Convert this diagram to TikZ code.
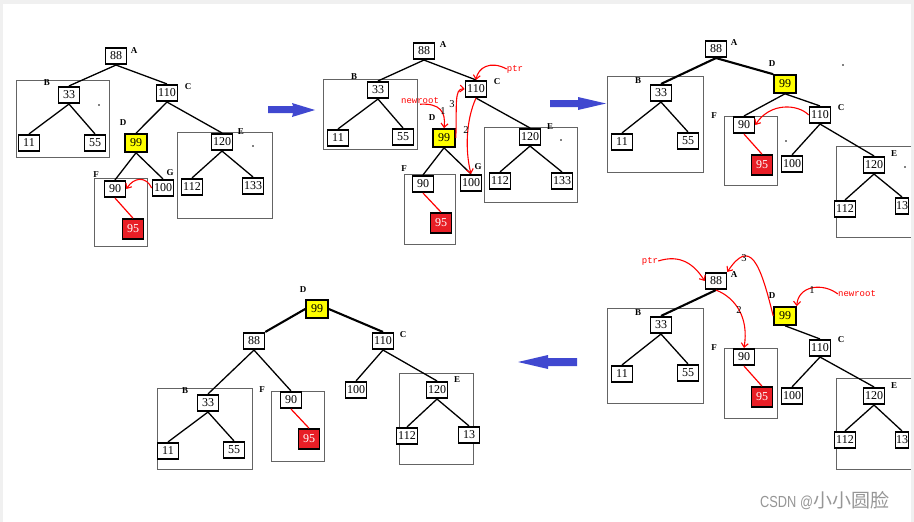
\documentclass[tikz,border=0pt]{standalone}
\usepackage{fontspec}
\setmainfont{Liberation Serif}
\newfontfamily\monof{Liberation Mono}
\newfontfamily\sansf{Liberation Sans}
\newfontfamily\cjk{Noto Sans CJK SC}
\usetikzlibrary{arrows.meta}
\definecolor{bblue}{RGB}{64,72,208}
\definecolor{boxred}{RGB}{232,30,38}
\definecolor{pred}{RGB}{255,0,0}
\definecolor{ybox}{RGB}{255,255,0}
\definecolor{gline}{RGB}{100,100,100}
\definecolor{bgframe}{RGB}{240,240,240}
\definecolor{wm}{RGB}{150,150,150}
\begin{document}
\begin{tikzpicture}[x=1pt,y=-1pt,
  num/.style={draw=black,line width=1.6pt,fill=white,inner xsep=1.5pt,inner ysep=0pt,
    minimum width=21pt,minimum height=16.5pt,font=\fontsize{12}{13}\selectfont},
  ynum/.style={num,fill=ybox,minimum width=22pt,minimum height=18pt},
  rnum/.style={num,fill=boxred,text=white,minimum width=21pt,minimum height=20pt},
  cutnum/.style={num,minimum width=13pt,inner xsep=0.3pt},
  lab/.style={font=\fontsize{9}{10}\selectfont\bfseries,inner sep=0pt},
  stepnum/.style={font=\fontsize{10.5}{11}\selectfont,inner sep=0pt},
  ptrtxt/.style={font=\monof\fontsize{9}{10}\selectfont,text=pred,inner sep=0pt},
  grp/.style={draw=gline,line width=0.9pt},
  edge/.style={line width=1.3pt},
  tedge/.style={line width=2.1pt},
  rarr/.style={draw=pred,line width=1.1pt,-{Straight Barb[length=4pt,width=7pt]}},
  rline/.style={draw=pred,line width=1.2pt},
  bar/.style={fill=bblue},
  dotm/.style={fill=black}
]
\useasboundingbox (0,0) rectangle (914,522);
\fill[bgframe] (0,0) rectangle (914,522);
\fill[white] (3,4) rectangle (911,522);

% ================= Panel 1 =================
\draw[grp] (16,80) rectangle (109,157);
\draw[grp] (177,132) rectangle (272,218);
\draw[grp] (94,178) rectangle (147,246);
\node[num] (p1a) at (116,56) {88};
\node[num] (p1b) at (69,95) {33};
\node[num] (p1b1) at (29,143) {11};
\node[num] (p1b2) at (95,143) {55};
\node[num] (p1c) at (167,93) {110};
\node[ynum] (p1d) at (136,143) {99};
\node[num] (p1e) at (222,142) {120};
\node[num] (p1e1) at (192,187) {112};
\node[num] (p1e2) at (253,186) {133};
\node[num] (p1f) at (115,189) {90};
\node[num] (p1g) at (163,188) {100};
\node[rnum] (p1r) at (133,229) {95};
\draw[edge] (p1a.south) -- (p1b.north);
\draw[edge] (p1a.south) -- (p1c.north);
\draw[edge] (p1b.south) -- (p1b1.north);
\draw[edge] (p1b.south) -- (p1b2.north);
\draw[edge] (p1c.south) -- (p1d.north);
\draw[edge] (p1c.south) -- (p1e.north);
\draw[edge] (p1d.south) -- (p1f.north);
\draw[edge] (p1d.south) -- (p1g.north);
\draw[edge] (p1e.south) -- (p1e1.north);
\draw[edge] (p1e.south) -- (p1e2.north);
\draw[rline] (p1f.south) -- (p1r.north);
\draw[rarr] (p1g.west) .. controls (146,176) and (134,177) .. (p1f.east);
\node[lab] (l1a) at (134,51) {A};
\node[lab] (l1b) at (47,83) {B};
\node[lab] (l1c) at (188,87) {C};
\node[lab] (l1d) at (123,123) {D};
\node[lab] (l1e) at (241,132) {E};
\node[lab] (l1f) at (96,175) {F};
\node[lab] (l1g) at (170,173) {G};
\fill[dotm] (99,105) circle (0.9);
\fill[dotm] (253,146) circle (0.9);

% blue arrow 1
\fill[bar] (268,106) -- (293,106) -- (292,103) -- (315,110) -- (292,117) -- (293,113) -- (268,113) -- cycle;

% ================= Panel 2 =================
\draw[grp] (323,79) rectangle (417,149);
\draw[grp] (484,127) rectangle (577,202);
\draw[grp] (404,174) rectangle (455,244);
\node[num] (p2a) at (424,51) {88};
\node[num] (p2b) at (378,90) {33};
\node[num] (p2b1) at (338,138) {11};
\node[num] (p2b2) at (403,137) {55};
\node[num] (p2c) at (476,89) {110};
\node[ynum] (p2d) at (444,138) {99};
\node[num] (p2e) at (530,137) {120};
\node[num] (p2e1) at (500,181) {112};
\node[num] (p2e2) at (562,181) {133};
\node[num] (p2f) at (423,184) {90};
\node[num] (p2g) at (471,183) {100};
\node[rnum] (p2r) at (441,223) {95};
\draw[edge] (p2a.south) -- (p2b.north);
\draw[edge] (p2a.south) -- (p2c.north);
\draw[edge] (p2b.south) -- (p2b1.north);
\draw[edge] (p2b.south) -- (p2b2.north);
\draw[edge] (p2c.south) -- (p2e.north);
\draw[edge] (p2d.south) -- (p2f.north);
\draw[edge] (p2d.south) -- (p2g.north);
\draw[edge] (p2e.south) -- (p2e1.north);
\draw[edge] (p2e.south) -- (p2e2.north);
\draw[rline] (p2f.south) -- (p2r.north);
\node[ptrtxt] (ptr2) at (515,69) {ptr};
\node[ptrtxt] (nr2) at (420,101) {newroot};
\draw[rarr] (ptr2.west) .. controls (490,60) and (478,68) .. (p2c.north);
\draw[rarr] (nr2.south) .. controls (440,103) and (446,112) .. (p2d.north);
\draw[rarr] (p2d.east) .. controls (457,105) and (454,88) .. (p2c.west);
\draw[rarr] (p2c.south) .. controls (466,120) and (465,150) .. (p2g.north);
\node[stepnum] (s21) at (443,111) {1};
\node[stepnum] (s23) at (452,104) {3};
\node[stepnum] (s22) at (466,130) {2};
\node[lab] (l2a) at (443,45) {A};
\node[lab] (l2b) at (354,77) {B};
\node[lab] (l2c) at (497,82) {C};
\node[lab] (l2d) at (432,118) {D};
\node[lab] (l2e) at (550,127) {E};
\node[lab] (l2f) at (404,169) {F};
\node[lab] (l2g) at (478,167) {G};
\fill[dotm] (561,140) circle (0.9);

% blue arrow 2
\fill[bar] (550,100) -- (578,100) -- (578,97) -- (606,103.5) -- (578,110) -- (578,107) -- (550,107) -- cycle;

% ================= Panel 3 =================
\draw[grp] (607,76) rectangle (703,172);
\draw[grp] (724,116) rectangle (777,185);
\draw[grp] (911,146) -- (836,146) -- (836,237) -- (911,237);
\node[num] (p3a) at (716,49) {88};
\node[num] (p3b) at (661,93) {33};
\node[num] (p3b1) at (622,142) {11};
\node[num] (p3b2) at (688,141) {55};
\node[ynum] (p3d) at (785,84) {99};
\node[num] (p3c) at (820,115) {110};
\node[num] (p3f) at (744,125) {90};
\node[rnum] (p3r) at (762,165) {95};
\node[num] (p3g) at (792,164) {100};
\node[num] (p3e) at (874,165) {120};
\node[num] (p3e1) at (845,209) {112};
\node[cutnum] (p3e2) at (902,206) {13};
\draw[tedge] (p3a.south) -- (p3b.north);
\draw[tedge] (p3a.south) -- (p3d.north west);
\draw[edge] (p3d.south) -- (p3f.north);
\draw[edge] (p3d.south) -- (p3c.north);
\draw[edge] (p3b.south) -- (p3b1.north);
\draw[edge] (p3b.south) -- (p3b2.north);
\draw[edge] (p3c.south) -- (p3g.north);
\draw[edge] (p3c.south) -- (p3e.north);
\draw[edge] (p3e.south) -- (p3e1.north);
\draw[edge] (p3e.south) -- (p3e2.north);
\draw[rline] (p3f.south) -- (p3r.north);
\draw[rarr] (p3c.west) .. controls (798,104) and (770,102) .. (p3f.east);
\node[lab] (l3a) at (734,43) {A};
\node[lab] (l3b) at (638,81) {B};
\node[lab] (l3c) at (841,108) {C};
\node[lab] (l3d) at (772,64) {D};
\node[lab] (l3e) at (894,154) {E};
\node[lab] (l3f) at (714,116) {F};
\fill[dotm] (843,65) circle (0.9);
\fill[dotm] (786,141) circle (0.9);
\fill[dotm] (905,167) circle (0.9);

% ================= Panel 4 =================
\draw[grp] (607,308) rectangle (703,403);
\draw[grp] (724,348) rectangle (777,418);
\draw[grp] (911,378) -- (836,378) -- (836,469) -- (911,469);
\node[num] (p4a) at (716,281) {88};
\node[num] (p4b) at (661,325) {33};
\node[num] (p4b1) at (622,374) {11};
\node[num] (p4b2) at (688,373) {55};
\node[ynum] (p4d) at (785,316) {99};
\node[num] (p4c) at (820,348) {110};
\node[num] (p4f) at (744,357) {90};
\node[rnum] (p4r) at (762,397) {95};
\node[num] (p4g) at (792,396) {100};
\node[num] (p4e) at (874,396) {120};
\node[num] (p4e1) at (845,440) {112};
\node[cutnum] (p4e2) at (902,440) {13};
\draw[tedge] (p4a.south) -- (p4b.north);
\draw[edge] (p4b.south) -- (p4b1.north);
\draw[edge] (p4b.south) -- (p4b2.north);
\draw[edge] (p4d.south) -- (p4c.north);
\draw[edge] (p4c.south) -- (p4g.north);
\draw[edge] (p4c.south) -- (p4e.north);
\draw[edge] (p4e.south) -- (p4e1.north);
\draw[edge] (p4e.south) -- (p4e2.north);
\draw[rline] (p4f.south) -- (p4r.north);
\node[ptrtxt] (ptr4) at (650,261) {ptr};
\node[ptrtxt] (nr4) at (857,294) {newroot};
\draw[rarr] (ptr4.east) .. controls (680,254) and (694,264) .. (p4a.west);
\draw[rarr] (p4d.west) .. controls (760,262) and (750,238) .. (p4a.north east);
\draw[rarr] (p4a.south) .. controls (736,298) and (749,318) .. (p4f.north);
\draw[rarr] (nr4.west) .. controls (822,282) and (798,286) .. (p4d.north east);
\node[stepnum] (s43) at (744,258) {3};
\node[stepnum] (s42) at (739,310) {2};
\node[stepnum] (s41) at (812,290) {1};
\node[lab] (l4a) at (734,275) {A};
\node[lab] (l4b) at (638,313) {B};
\node[lab] (l4c) at (841,340) {C};
\node[lab] (l4d) at (772,296) {D};
\node[lab] (l4e) at (894,386) {E};
\node[lab] (l4f) at (714,348) {F};

% blue arrow 3
\fill[bar] (577,358) -- (548,358) -- (548,355) -- (518,362) -- (548,369) -- (548,366) -- (577,366) -- cycle;

% ================= Panel 5 =================
\draw[grp] (157,388) rectangle (252,469);
\draw[grp] (271,391) rectangle (324,461);
\draw[grp] (399,373) rectangle (473,464);
\node[ynum] (p5d) at (317,309) {99};
\node[num] (p5a) at (254,341) {88};
\node[num] (p5c) at (383,341) {110};
\node[num] (p5b) at (208,403) {33};
\node[num] (p5b1) at (168,451) {11};
\node[num] (p5b2) at (234,450) {55};
\node[num] (p5f) at (291,400) {90};
\node[rnum] (p5r) at (309,439) {95};
\node[num] (p5g) at (356,390) {100};
\node[num] (p5e) at (437,390) {120};
\node[num] (p5e1) at (407,436) {112};
\node[num] (p5e2) at (469,435) {13};
\draw[tedge] (p5d.west) -- (p5a.north east);
\draw[tedge] (p5d.east) -- (p5c.north);
\draw[edge] (p5a.south) -- (p5b.north);
\draw[edge] (p5a.south) -- (p5f.north);
\draw[edge] (p5b.south) -- (p5b1.north);
\draw[edge] (p5b.south) -- (p5b2.north);
\draw[edge] (p5c.south) -- (p5g.north);
\draw[edge] (p5c.south) -- (p5e.north);
\draw[edge] (p5e.south) -- (p5e1.north);
\draw[edge] (p5e.south) -- (p5e2.north);
\draw[rline] (p5f.south) -- (p5r.north);
\node[lab] (l5b) at (185,391) {B};
\node[lab] (l5c) at (403,335) {C};
\node[lab] (l5d) at (303,290) {D};
\node[lab] (l5e) at (457,380) {E};
\node[lab] (l5f) at (262,390) {F};

% watermark
\node[anchor=base west,inner sep=0pt,text=wm] (wmk) at (760,507)
  {\scalebox{0.8}[1]{\sansf\fontsize{16}{18}\selectfont CSDN @}\cjk\fontsize{19}{21}\selectfont 小小圆脸};
\end{tikzpicture}
\end{document}
